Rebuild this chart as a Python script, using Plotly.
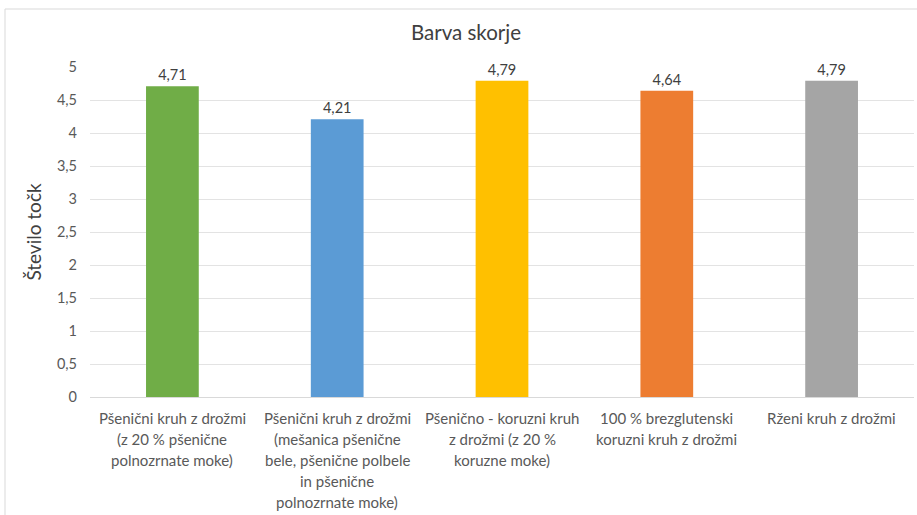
import plotly.graph_objects as go

category_lines = [
    ["Pšenični kruh z drožmi", "(z 20 % pšenične", "polnozrnate moke)"],
    ["Pšenični kruh z drožmi", "(mešanica pšenične", "bele, pšenične polbele", "in pšenične", "polnozrnate moke)"],
    ["Pšenično - koruzni kruh", "z drožmi (z 20 %", "koruzne moke)"],
    ["100 % brezglutenski", "koruzni kruh z drožmi"],
    ["Rženi kruh z drožmi"],
]
categories = [" ".join(c) for c in category_lines]
values = [4.71, 4.21, 4.79, 4.64, 4.79]
labels = ["4,71", "4,21", "4,79", "4,64", "4,79"]
colors = ["#70AD47", "#5B9BD5", "#FFC000", "#ED7D31", "#A5A5A5"]
tick_vals = [0, 0.5, 1, 1.5, 2, 2.5, 3, 3.5, 4, 4.5, 5]
tick_text = ["0", "0,5", "1", "1,5", "2", "2,5", "3", "3,5", "4", "4,5", "5"]

font_family = "Lato, 'Open Sans', sans-serif"

fig = go.Figure(go.Bar(
    x=categories, y=values, marker_color=colors, marker_line_width=0,
    text=labels, textposition="outside", cliponaxis=False,
    textfont=dict(size=14.5, color="#404040", family=font_family),
))

W, H = 917, 515
l, r, t, b = 90, 3, 67, 118

annotations = []
for cat, lines in zip(categories, category_lines):
    for i, line in enumerate(lines):
        annotations.append(dict(
            x=cat, y=0, xref="x", yref="y", text=line, showarrow=False,
            xanchor="center", yanchor="middle", yshift=-(21 + 21 * i),
            font=dict(size=15, color="#595959", family=font_family),
        ))

fig.update_layout(
    width=W, height=H,
    margin=dict(l=l, r=r, t=t, b=b),
    paper_bgcolor="white", plot_bgcolor="white",
    bargap=0.68,
    separators=", ",
    showlegend=False,
    title=dict(text="Barva skorje", x=466 / W, xanchor="center", y=1 - 33 / H, yanchor="middle",
               font=dict(size=20.5, color="#404040", family=font_family)),
    font=dict(family=font_family, color="#595959"),
    xaxis=dict(showgrid=False, showline=True, linecolor="#D9D9D9", linewidth=1,
               showticklabels=False, ticks=""),
    yaxis=dict(range=[0, 5], tickvals=tick_vals, ticktext=tick_text,
               showgrid=True, gridcolor="#E3E3E3", gridwidth=1, zeroline=False,
               showline=False, ticks="", ticklen=0, ticklabelstandoff=12,
               tickfont=dict(size=14.5, color="#595959"),
               title=dict(text="Število točk", font=dict(size=19, color="#404040"), standoff=10)),
    annotations=annotations,
    shapes=[
        dict(type="line", xref="paper", yref="paper",
             x0=(5 - l) / (W - l - r), x1=(W + 10 - l) / (W - l - r),
             y0=(H - 9 - b) / (H - t - b), y1=(H - 9 - b) / (H - t - b),
             line=dict(color="#D9D9D9", width=1)),
        dict(type="line", xref="paper", yref="paper",
             x0=(5 - l) / (W - l - r), x1=(5 - l) / (W - l - r),
             y0=(H - 9 - b) / (H - t - b), y1=-b / (H - t - b) - 0.05,
             line=dict(color="#D9D9D9", width=1)),
    ],
)

fig.write_html("out.html", config={"displayModeBar": False},
               post_script="document.body.style.margin='0';")
